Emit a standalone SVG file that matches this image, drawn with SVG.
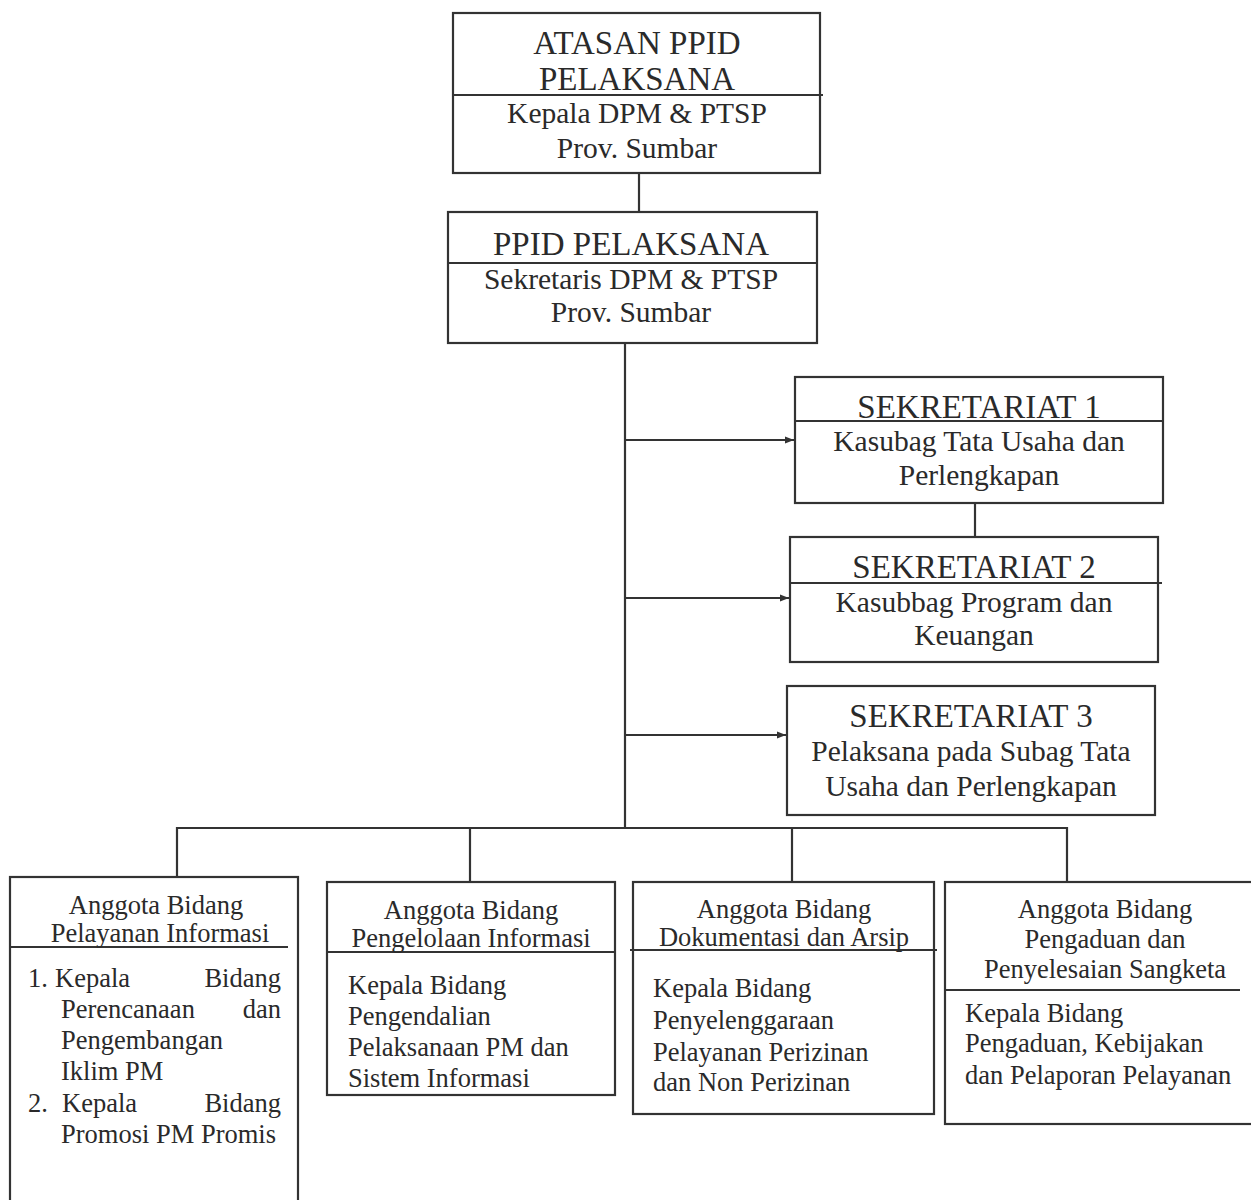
<svg xmlns="http://www.w3.org/2000/svg" width="1251" height="1200" viewBox="0 0 1251 1200">
<style>
.box{fill:#fff;stroke:#333;stroke-width:2.2}
.div{stroke:#333;stroke-width:2.2}
.ln{stroke:#333;stroke-width:2.2;fill:none}
text{font-family:"Liberation Serif","Times New Roman",serif;fill:#2a2a2a}
.t{font-size:33px;text-anchor:middle}
.s{font-size:29.5px;text-anchor:middle}
.b{font-size:26.5px}
.bc{font-size:26.5px;text-anchor:middle}
.e{text-anchor:end}
</style>
<defs>
<marker id="ah" viewBox="0 0 10 10" refX="10" refY="5" markerWidth="9" markerHeight="9" markerUnits="userSpaceOnUse" orient="auto">
<path d="M0,1 L10,5 L0,9 z" fill="#333"/>
</marker>
</defs>
<rect width="1251" height="1200" fill="#fff"/>
<g id="connectors">
<line class="ln" x1="639" y1="173" x2="639" y2="212"/>
<line class="ln" x1="625" y1="343" x2="625" y2="828"/>
<line class="ln" x1="625" y1="440" x2="794" y2="440" marker-end="url(#ah)"/>
<line class="ln" x1="625" y1="598" x2="789" y2="598" marker-end="url(#ah)"/>
<line class="ln" x1="625" y1="735" x2="786" y2="735" marker-end="url(#ah)"/>
<line class="ln" x1="975" y1="503" x2="975" y2="537"/>
<polyline class="ln" points="177,877 177,828 1067,828 1067,882"/>
<line class="ln" x1="470" y1="828" x2="470" y2="882"/>
<line class="ln" x1="792" y1="828" x2="792" y2="882"/>
</g>
<g id="atasan">
<rect class="box" x="453" y="13" width="367" height="160"/>
<line class="div" x1="453" y1="95" x2="823" y2="95"/>
<text class="t" x="637" y="54">ATASAN PPID</text>
<text class="t" x="637" y="90">PELAKSANA</text>
<text class="s" x="637" y="123">Kepala DPM &amp; PTSP</text>
<text class="s" x="637" y="158">Prov. Sumbar</text>
</g>
<g id="ppid">
<rect class="box" x="448" y="212" width="369" height="131"/>
<line class="div" x1="448" y1="263" x2="817" y2="263"/>
<text class="t" x="631" y="255">PPID PELAKSANA</text>
<text class="s" x="631" y="289">Sekretaris DPM &amp; PTSP</text>
<text class="s" x="631" y="322">Prov. Sumbar</text>
</g>
<g id="sek1">
<rect class="box" x="795" y="377" width="368" height="126"/>
<line class="div" x1="795" y1="421" x2="1163" y2="421"/>
<text class="t" x="979" y="418">SEKRETARIAT 1</text>
<text class="s" x="979" y="451">Kasubag Tata Usaha dan</text>
<text class="s" x="979" y="485">Perlengkapan</text>
</g>
<g id="sek2">
<rect class="box" x="790" y="537" width="368" height="125"/>
<line class="div" x1="790" y1="583" x2="1162" y2="583"/>
<text class="t" x="974" y="578">SEKRETARIAT 2</text>
<text class="s" x="974" y="612">Kasubbag Program dan</text>
<text class="s" x="974" y="645">Keuangan</text>
</g>
<g id="sek3">
<rect class="box" x="787" y="686" width="368" height="129"/>
<text class="t" x="971" y="727">SEKRETARIAT 3</text>
<text class="s" x="971" y="761">Pelaksana pada Subag Tata</text>
<text class="s" x="971" y="796">Usaha dan Perlengkapan</text>
</g>
<g id="pelayanan">
<rect class="box" x="10" y="877" width="288" height="340"/>
<line class="div" x1="10" y1="947" x2="288" y2="947"/>
<text class="bc" x="156" y="914">Anggota Bidang</text>
<text class="bc" x="160" y="942">Pelayanan Informasi</text>
<text class="b" x="28" y="987">1.</text>
<text class="b" x="55" y="987">Kepala</text>
<text class="b e" x="281" y="987">Bidang</text>
<text class="b" x="61" y="1018">Perencanaan</text>
<text class="b e" x="281" y="1018">dan</text>
<text class="b" x="61" y="1049">Pengembangan</text>
<text class="b" x="61" y="1080">Iklim PM</text>
<text class="b" x="28" y="1112">2.</text>
<text class="b" x="62" y="1112">Kepala</text>
<text class="b e" x="281" y="1112">Bidang</text>
<text class="b" x="61" y="1143">Promosi PM Promis</text>
</g>
<g id="pengelolaan">
<rect class="box" x="327" y="882" width="288" height="213"/>
<line class="div" x1="327" y1="952" x2="615" y2="952"/>
<text class="bc" x="471" y="919">Anggota Bidang</text>
<text class="bc" x="471" y="947">Pengelolaan Informasi</text>
<text class="b" x="348" y="994">Kepala Bidang</text>
<text class="b" x="348" y="1025">Pengendalian</text>
<text class="b" x="348" y="1056">Pelaksanaan PM dan</text>
<text class="b" x="348" y="1087">Sistem Informasi</text>
</g>
<g id="dokumentasi">
<rect class="box" x="633" y="882" width="301" height="232"/>
<line class="div" x1="630" y1="950" x2="937" y2="950"/>
<text class="bc" x="784" y="918">Anggota Bidang</text>
<text class="bc" x="784" y="946">Dokumentasi dan Arsip</text>
<text class="b" x="653" y="997">Kepala Bidang</text>
<text class="b" x="653" y="1029">Penyelenggaraan</text>
<text class="b" x="653" y="1061">Pelayanan Perizinan</text>
<text class="b" x="653" y="1091">dan Non Perizinan</text>
</g>
<g id="pengaduan">
<rect class="box" x="945" y="882" width="310" height="242"/>
<line class="div" x1="945" y1="990" x2="1240" y2="990"/>
<text class="bc" x="1105" y="918">Anggota Bidang</text>
<text class="bc" x="1105" y="948">Pengaduan dan</text>
<text class="bc" x="1105" y="978">Penyelesaian Sangketa</text>
<text class="b" x="965" y="1022">Kepala Bidang</text>
<text class="b" x="965" y="1052">Pengaduan, Kebijakan</text>
<text class="b" x="965" y="1084">dan Pelaporan Pelayanan</text>
</g>
</svg>
